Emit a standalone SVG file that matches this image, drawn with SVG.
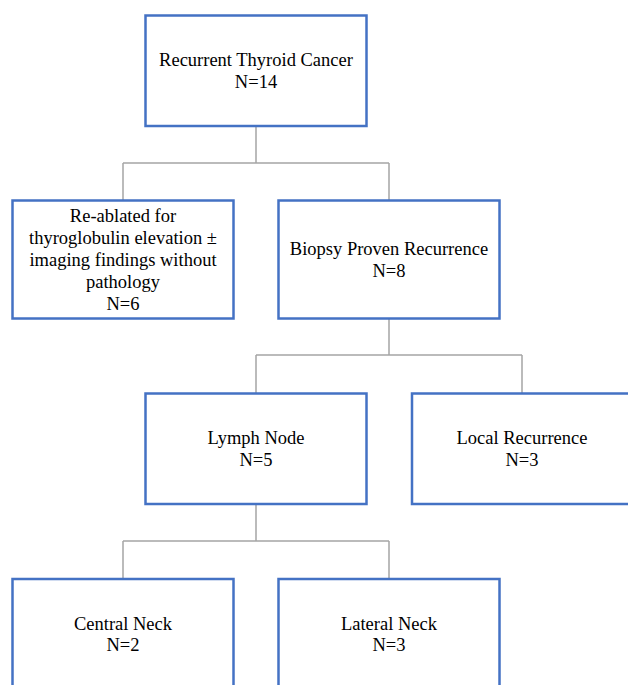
<svg xmlns="http://www.w3.org/2000/svg" width="628" height="685" viewBox="0 0 628 685">
<style>
.box{fill:#fff;stroke:#4472C4;stroke-width:2.5}
.t{font-family:"Liberation Serif","Times New Roman",serif;font-size:18.5px;fill:#000;text-anchor:middle}
.c{fill:none;stroke:#A5A5A5;stroke-width:1.5}
</style>
<rect width="628" height="685" fill="#fff"/>
<g id="connectors">
<path class="c" d="M256 126V163M123 163H389M123 163V200M389 163V200"/>
<path class="c" d="M389 319V355M256 355H522M256 355V393M522 355V393"/>
<path class="c" d="M256 504V541M123 541H389M123 541V579M389 541V579"/>
</g>
<g id="n-recurrent">
<rect class="box" x="145.5" y="15.5" width="221" height="110.5"/>
<text class="t" x="256" y="65.5">Recurrent Thyroid Cancer</text>
<text class="t" x="256" y="87.5">N=14</text>
</g>
<g id="n-reablated">
<rect class="box" x="12.5" y="200.5" width="221" height="118"/>
<text class="t" x="123" y="221.5">Re-ablated for</text>
<text class="t" x="123" y="243.5">thyroglobulin elevation ±</text>
<text class="t" x="123" y="265.5">imaging findings without</text>
<text class="t" x="123" y="288">pathology</text>
<text class="t" x="123" y="310">N=6</text>
</g>
<g id="n-biopsy">
<rect class="box" x="278.5" y="200.5" width="221" height="118"/>
<text class="t" x="389" y="255">Biopsy Proven Recurrence</text>
<text class="t" x="389" y="277">N=8</text>
</g>
<g id="n-lymph">
<rect class="box" x="145.5" y="393.5" width="221" height="110.5"/>
<text class="t" x="256" y="444">Lymph Node</text>
<text class="t" x="256" y="466">N=5</text>
</g>
<g id="n-local">
<rect class="box" x="412" y="393.5" width="221" height="110.5"/>
<text class="t" x="522" y="444">Local Recurrence</text>
<text class="t" x="522" y="466">N=3</text>
</g>
<g id="n-central">
<rect class="box" x="12.5" y="579" width="221" height="120"/>
<text class="t" x="123" y="629.5">Central Neck</text>
<text class="t" x="123" y="651">N=2</text>
</g>
<g id="n-lateral">
<rect class="box" x="278.5" y="579" width="221" height="120"/>
<text class="t" x="389" y="629.5">Lateral Neck</text>
<text class="t" x="389" y="651">N=3</text>
</g>
</svg>
